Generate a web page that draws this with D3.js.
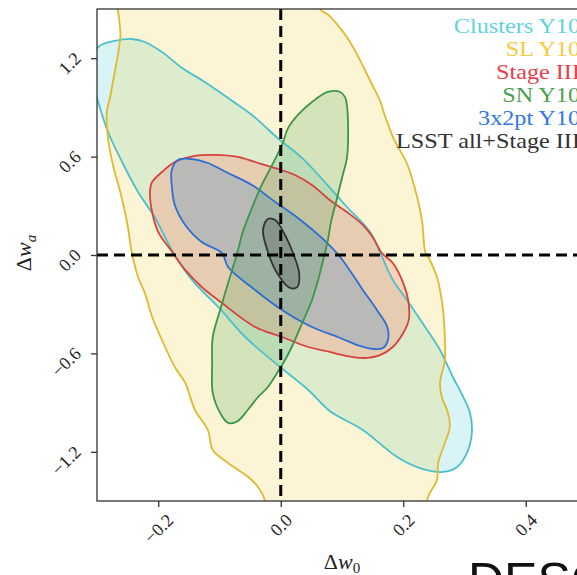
<!DOCTYPE html>
<html>
<head>
<meta charset="utf-8">
<script src="https://cdn.jsdelivr.net/npm/d3@7"></script>
<style>
  body { margin: 0; background: #fff; overflow: hidden; }
  svg { display: block; }
</style>
</head>
<body>
<script>
// Legend entries, in display order
const legendLabels = ["Clusters Y10", "SL Y10", "Stage III", "SN Y10", "3x2pt Y10", "LSST all+Stage III"];

// 68% contour outlines, as (Δw0, Δwa) vertices
const clustersY10 = [[-0.298,1.268],[-0.271,1.305],[-0.243,1.317],[-0.222,1.299],[-0.194,1.238],[-0.161,1.140],[-0.124,1.055],[-0.086,0.957],[-0.047,0.854],[-0.005,0.713],[0.035,0.591],[0.072,0.445],[0.105,0.305],[0.146,0.140],[0.162,0.018],[0.183,-0.152],[0.206,-0.274],[0.239,-0.457],[0.260,-0.579],[0.281,-0.744],[0.298,-0.866],[0.309,-0.963],[0.312,-1.085],[0.304,-1.207],[0.288,-1.293],[0.265,-1.323],[0.227,-1.299],[0.190,-1.232],[0.134,-1.067],[0.080,-0.951],[0.045,-0.823],[-0.005,-0.671],[-0.058,-0.500],[-0.102,-0.317],[-0.145,-0.152],[-0.178,0.030],[-0.205,0.226],[-0.233,0.384],[-0.259,0.567],[-0.282,0.750],[-0.298,0.933],[-0.311,1.116]];

const slY10 = [[-0.258,1.800],[-0.262,1.323],[-0.271,1.116],[-0.279,0.957],[-0.284,0.872],[-0.282,0.713],[-0.274,0.549],[-0.262,0.384],[-0.251,0.201],[-0.243,0.012],[-0.233,-0.134],[-0.222,-0.232],[-0.210,-0.378],[-0.194,-0.518],[-0.173,-0.683],[-0.156,-0.780],[-0.140,-0.945],[-0.119,-1.067],[-0.111,-1.189],[-0.086,-1.268],[-0.053,-1.354],[-0.037,-1.415],[-0.026,-1.494],[-0.018,-1.800],[0.244,-1.800],[0.239,-1.494],[0.255,-1.372],[0.257,-1.268],[0.268,-1.146],[0.276,-1.049],[0.273,-0.963],[0.263,-0.866],[0.260,-0.780],[0.268,-0.640],[0.268,-0.518],[0.265,-0.335],[0.260,-0.213],[0.255,-0.134],[0.241,-0.012],[0.236,0.018],[0.231,0.201],[0.223,0.348],[0.207,0.549],[0.184,0.713],[0.168,0.872],[0.163,0.933],[0.147,1.055],[0.125,1.220],[0.109,1.323],[0.093,1.402],[0.078,1.463],[0.062,1.506],[0.035,1.800]];

const stageIII = [[-0.2135,0.384],[-0.210,0.445],[-0.194,0.506],[-0.173,0.567],[-0.140,0.604],[-0.107,0.610],[-0.070,0.598],[-0.042,0.567],[-0.009,0.530],[0.023,0.488],[0.051,0.427],[0.080,0.335],[0.108,0.262],[0.134,0.183],[0.151,0.104],[0.165,0.012],[0.183,-0.049],[0.200,-0.171],[0.208,-0.274],[0.209,-0.396],[0.200,-0.476],[0.183,-0.561],[0.162,-0.610],[0.134,-0.628],[0.108,-0.616],[0.080,-0.591],[0.045,-0.561],[0.002,-0.500],[-0.042,-0.439],[-0.096,-0.293],[-0.129,-0.195],[-0.156,-0.091],[-0.176,0.012],[-0.200,0.140],[-0.210,0.262]];

const snY10 = [[0.077,0.994],[0.097,0.994],[0.105,0.963],[0.108,0.915],[0.110,0.713],[0.108,0.591],[0.100,0.470],[0.092,0.348],[0.082,0.201],[0.077,0.091],[0.072,0.012],[0.061,-0.152],[0.051,-0.274],[0.035,-0.415],[0.018,-0.561],[0.007,-0.640],[-0.006,-0.720],[-0.021,-0.805],[-0.037,-0.866],[-0.054,-0.945],[-0.070,-1.012],[-0.086,-1.024],[-0.099,-0.963],[-0.111,-0.841],[-0.112,-0.659],[-0.111,-0.500],[-0.099,-0.335],[-0.086,-0.171],[-0.071,0.012],[-0.062,0.140],[-0.047,0.287],[-0.031,0.427],[-0.014,0.549],[0.002,0.671],[0.012,0.774],[0.028,0.854],[0.051,0.933]];

const threeByTwoY10 = [[-0.178,0.518],[-0.168,0.579],[-0.145,0.585],[-0.119,0.561],[-0.086,0.500],[-0.047,0.427],[-0.009,0.323],[0.028,0.226],[0.067,0.104],[0.097,-0.012],[0.134,-0.213],[0.157,-0.335],[0.174,-0.439],[0.175,-0.518],[0.167,-0.567],[0.151,-0.573],[0.125,-0.549],[0.097,-0.506],[0.051,-0.439],[0.002,-0.335],[-0.042,-0.213],[-0.086,-0.073],[-0.096,0.012],[-0.129,0.079],[-0.156,0.183],[-0.173,0.305],[-0.178,0.427]];

const lsstAll = [[-0.021,0.220],[-0.009,0.213],[0.007,0.122],[0.020,0.012],[0.030,-0.110],[0.027,-0.195],[0.015,-0.201],[-0.006,-0.110],[-0.022,0.030],[-0.029,0.152]];

// Fiducial cosmology (dashed cross-hair)
const fiducialW0 = 0.0;
const fiducialWa = 0.0;

// Axis ticks
const xTicks = [-0.2, 0.0, 0.2, 0.4];
const xTickLabels = ["\u22120.2", "0.0", "0.2", "0.4"];
const yTicks = [-1.2, -0.6, 0.0, 0.6, 1.2];
const yTickLabels = ["\u22121.2", "\u22120.6", "0.0", "0.6", "1.2"];

// ---- drawing ----
const W = 577, H = 575;
const L = 97, R = 587, T = 9, B = 501;

const svg = d3.select("body").append("svg").attr("width", W).attr("height", H);

const x = d3.scaleLinear().domain([-0.3, 0.5]).range([L, R]);
const y = d3.scaleLinear().domain([-1.5, 1.5]).range([B, T]);

svg.append("defs").append("clipPath").attr("id", "plotclip")
  .append("rect").attr("x", L).attr("y", T).attr("width", R - L).attr("height", B - T);

const plot = svg.append("g").attr("clip-path", "url(#plotclip)");

const contour = d3.line()
  .x(d => x(d[0])).y(d => y(d[1]))
  .curve(d3.curveCatmullRomClosed.alpha(0.5));

// Layer order: fills first, then outlines on top
const layers = [
  { pts: clustersY10,   fill: "rgb(65,200,210)",  op: 0.20, stroke: "#4dbfcc" },
  { pts: slY10,         fill: "rgb(240,205,45)",  op: 0.20, stroke: "#dfb92e" },
  { pts: stageIII,      fill: "rgb(251,134,116)", op: 0.30, stroke: "#d6423c" },
  { pts: threeByTwoY10, fill: "rgb(118,155,192)", op: 0.40, stroke: "#2c6ed2" },
  { pts: snY10,         fill: "rgb(41,150,74)",   op: 0.18, stroke: "#3c9646" },
  { pts: lsstAll,       fill: "rgb(80,80,80)",    op: 0.30, stroke: "#333333" }
];

plot.selectAll("path.fill").data(layers).join("path")
  .attr("class", "fill")
  .attr("d", d => contour(d.pts))
  .attr("fill", d => d.fill)
  .attr("fill-opacity", d => d.op)
  .attr("stroke", "none");

plot.selectAll("path.edge").data(layers).join("path")
  .attr("class", "edge")
  .attr("d", d => contour(d.pts))
  .attr("fill", "none")
  .attr("stroke", d => d.stroke)
  .attr("stroke-width", 1.8)
  .attr("stroke-linejoin", "round");

// Fiducial cross-hair
plot.append("line")
  .attr("x1", L).attr("x2", R).attr("y1", y(fiducialWa)).attr("y2", y(fiducialWa))
  .attr("stroke", "#000").attr("stroke-width", 3).attr("stroke-dasharray", "11,6");
plot.append("line")
  .attr("x1", x(fiducialW0)).attr("x2", x(fiducialW0)).attr("y1", T).attr("y2", B)
  .attr("stroke", "#000").attr("stroke-width", 3).attr("stroke-dasharray", "11,6");

// Frame
svg.append("rect").attr("x", L).attr("y", T).attr("width", R - L).attr("height", B - T)
  .attr("fill", "none").attr("stroke", "#333").attr("stroke-width", 1.3);

const tickFont = "'Liberation Serif', 'DejaVu Serif', serif";
const tickSize = 18;

// Bottom axis
const xAxis = svg.append("g").attr("transform", `translate(0,${B})`)
  .call(d3.axisBottom(x).tickValues(xTicks).tickSize(6).tickFormat((d, i) => xTickLabels[i]));
xAxis.select(".domain").remove();
xAxis.selectAll(".tick line").attr("stroke", "#333").attr("stroke-width", 1.3);
xAxis.selectAll(".tick text")
  .attr("font-family", tickFont).attr("font-size", tickSize).attr("fill", "#222")
  .attr("text-anchor", "middle").attr("dominant-baseline", "central")
  .attr("y", 0).attr("dy", null)
  .each(function () {
    const len = this.getComputedTextLength();
    const h = 0.66 * tickSize;
    const bh = (len + h) / Math.SQRT2;
    const cy = 12 + bh / 2;
    d3.select(this).attr("transform", `translate(0,${cy}) rotate(-45)`);
  });

// Left axis
const yAxis = svg.append("g").attr("transform", `translate(${L},0)`)
  .call(d3.axisLeft(y).tickValues(yTicks).tickSize(6).tickFormat((d, i) => yTickLabels[i]));
yAxis.select(".domain").remove();
yAxis.selectAll(".tick line").attr("stroke", "#333").attr("stroke-width", 1.3);
yAxis.selectAll(".tick text")
  .attr("font-family", tickFont).attr("font-size", tickSize).attr("fill", "#222")
  .attr("text-anchor", "end").attr("x", 0).attr("dy", null)
  .attr("transform", "translate(-15,1) rotate(-45)");

// Axis titles
const labelFont = "'Liberation Serif', 'DejaVu Serif', serif";
const xt = svg.append("text").attr("x", (L + R) / 2).attr("y", 569)
  .attr("text-anchor", "middle").attr("font-family", labelFont).attr("font-size", 22).attr("fill", "#222");
xt.append("tspan").text("\u0394");
xt.append("tspan").attr("font-style", "italic").text("w");
xt.append("tspan").attr("font-size", 15).attr("dy", 4).text("0");

const yt = svg.append("text").attr("transform", "translate(31,253) rotate(-90)")
  .attr("text-anchor", "middle").attr("font-family", labelFont).attr("font-size", 22).attr("fill", "#222");
yt.append("tspan").text("\u0394");
yt.append("tspan").attr("font-style", "italic").text("w");
yt.append("tspan").attr("font-style", "italic").attr("font-size", 15).attr("dy", 5).text("a");

// Legend (text only, coloured by series)
const legendColors = ["#5fd2e1", "#f2cc3c", "#e8404a", "#4c9f50", "#3079e0", "#333333"];
svg.append("g").selectAll("text").data(legendLabels).join("text")
  .attr("x", 580).attr("y", (d, i) => 32.5 + i * 23.1)
  .attr("text-anchor", "end")
  .attr("font-family", labelFont).attr("font-size", 22)
  .attr("fill", (d, i) => legendColors[i])
  .text(d => d)
  .each(function () {
    const len = this.getComputedTextLength();
    d3.select(this).attr("textLength", len * 1.1).attr("lengthAdjust", "spacingAndGlyphs");
  });

// Collaboration mark
svg.append("text").attr("x", 468).attr("y", 598)
  .attr("font-family", "'Liberation Sans', Arial, sans-serif").attr("font-size", 50)
  .attr("fill", "#111").text("DESC");
</script>
</body>
</html>
